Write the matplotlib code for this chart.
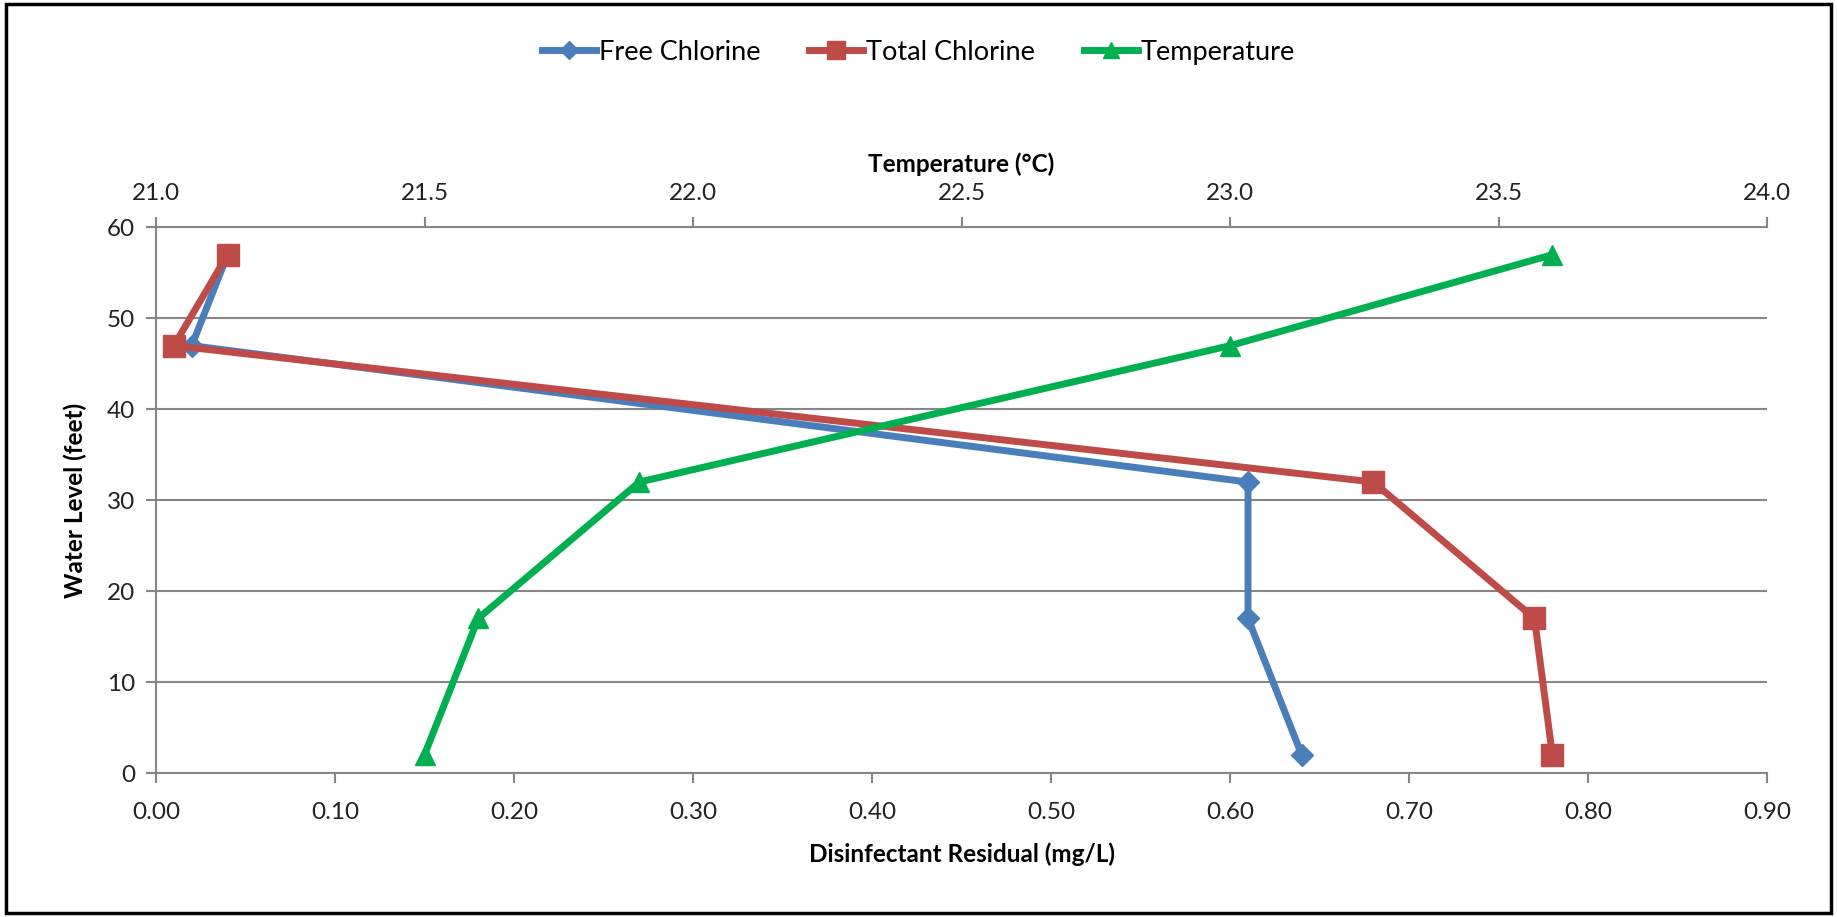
import matplotlib.pyplot as plt
from matplotlib.patches import Rectangle

# water level (feet) for each sample depth
levels = [57, 47, 32, 17, 2]
free_chlorine = [0.04, 0.02, 0.61, 0.61, 0.64]
total_chlorine = [0.04, 0.01, 0.68, 0.77, 0.78]
temperature = [23.6, 23.0, 21.9, 21.6, 21.5]

resid_ticks = [0.0, 0.1, 0.2, 0.3, 0.4, 0.5, 0.6, 0.7, 0.8, 0.9]
temp_ticks = [21.0, 21.5, 22.0, 22.5, 23.0, 23.5, 24.0]
level_ticks = [0, 10, 20, 30, 40, 50, 60]

blue = "#4A7EBB"
red = "#BE4B48"
green = "#00B050"
axis_gray = "#868686"

plt.rcParams["font.family"] = ["Lato", "DejaVu Sans"]

fig = plt.figure(figsize=(18.37, 9.17), dpi=100)
ax = fig.add_axes([0.0849, 0.157, 0.8771, 0.595])
ax2 = ax.twiny()

l1, = ax.plot(free_chlorine, levels, "-D", color=blue, lw=5, ms=11, label="Free Chlorine")
l2, = ax.plot(total_chlorine, levels, "-s", color=red, lw=5, ms=16, label="Total Chlorine")
l3, = ax2.plot(temperature, levels, "-^", color=green, lw=5, ms=15, label="Temperature")
for l in (l1, l2, l3):
    l.set_clip_on(False)

ax.set_xlim(0, 0.9)
ax.set_ylim(0, 60)
ax2.set_xlim(21.0, 24.0)
ax.set_xticks(resid_ticks)
ax.set_xticklabels([f"{v:.2f}" for v in resid_ticks])
ax2.set_xticks(temp_ticks)
ax2.set_xticklabels([f"{v:.1f}" for v in temp_ticks])
ax.set_yticks(level_ticks)

ax.grid(axis="y", color=axis_gray, lw=1.5)
ax.set_axisbelow(True)

for a in (ax, ax2):
    for side in ("left", "bottom", "top"):
        a.spines[side].set_color(axis_gray)
        a.spines[side].set_linewidth(1.5)
    a.spines["right"].set_visible(False)
    a.tick_params(colors=axis_gray, labelcolor="#222222", labelsize=17.5,
                  length=7, width=1.5)
ax2.spines["left"].set_visible(False)
ax2.spines["bottom"].set_visible(False)
ax.spines["top"].set_visible(False)
ax.tick_params(axis="x", pad=14)
ax.tick_params(axis="y", pad=8)
ax2.tick_params(axis="x", pad=10)

ax.set_xlabel("Disinfectant Residual (mg/L)", fontsize=17.5, fontweight="bold", labelpad=14)
ax.set_ylabel("Water Level (feet)", fontsize=17.5, fontweight="bold", labelpad=14)
ax2.set_xlabel("Temperature (°C)", fontsize=17.5, fontweight="bold", labelpad=8)

fig.legend(handles=[l1, l2, l3], loc="center", bbox_to_anchor=(0.5, 0.943),
           ncol=3, frameon=False, fontsize=19.5, handlelength=2.0,
           handletextpad=0.1, columnspacing=1.8, markerscale=0.8)

fig.patches.append(Rectangle((0.003, 0.004), 0.994, 0.992, transform=fig.transFigure,
                             fill=False, edgecolor="black", lw=2.5))

fig.savefig("out.png", dpi=100)
